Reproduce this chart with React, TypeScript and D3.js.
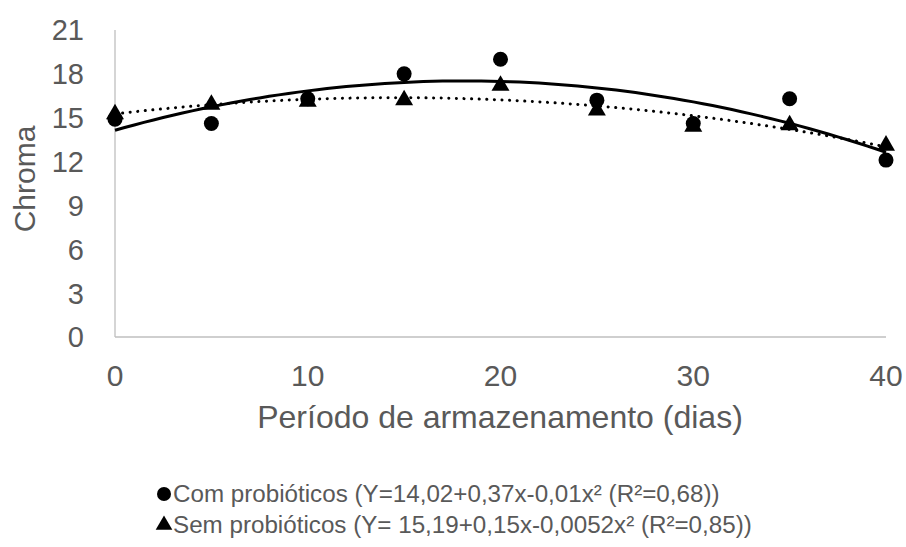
import React from "react";
import * as d3 from "d3";

// storage period (days)
const days = [0, 5, 10, 15, 20, 25, 30, 35, 40];
// chroma, with probiotics (circles)
const comProbioticos = [14.9, 14.6, 16.3, 18.0, 19.0, 16.2, 14.6, 16.3, 12.1];
// chroma, without probiotics (triangles)
const semProbioticos = [15.25, 15.9, 16.1, 16.2, 17.2, 15.5, 14.4, 14.5, 13.1];
const yTicks = [0, 3, 6, 9, 12, 15, 18, 21];
const xTicks = [0, 10, 20, 30, 40];
const legendLabels = [
  "Com probióticos (Y=14,02+0,37x-0,01x² (R²=0,68))",
  "Sem probióticos (Y= 15,19+0,15x-0,0052x² (R²=0,85))",
];

// least squares quadratic fit (what Excel's polynomial trendline does)
function quadFit(xs: number[], ys: number[]) {
  const n = xs.length;
  let s1 = 0, s2 = 0, s3 = 0, s4 = 0, t0 = 0, t1 = 0, t2 = 0;
  xs.forEach((x, i) => {
    const y = ys[i];
    s1 += x; s2 += x * x; s3 += x ** 3; s4 += x ** 4;
    t0 += y; t1 += x * y; t2 += x * x * y;
  });
  const m = [
    [n, s1, s2, t0],
    [s1, s2, s3, t1],
    [s2, s3, s4, t2],
  ];
  for (let i = 0; i < 3; i++) {
    for (let k = i + 1; k < 3; k++) {
      const f = m[k][i] / m[i][i];
      for (let j = i; j < 4; j++) m[k][j] -= f * m[i][j];
    }
  }
  const c = [0, 0, 0];
  for (let i = 2; i >= 0; i--) {
    let s = m[i][3];
    for (let j = i + 1; j < 3; j++) s -= m[i][j] * c[j];
    c[i] = s / m[i][i];
  }
  return (x: number) => c[0] + c[1] * x + c[2] * x * x;
}

const width = 906;
const height = 547;
const marginLeft = 115;
const marginRight = 20;
const marginTop = 30;
const plotBottom = 337;

const font = "'Liberation Sans', Arial, sans-serif";
const textColor = "#595959";

export default function App() {
  const x = d3.scaleLinear().domain([0, 40]).range([marginLeft, width - marginRight]);
  const y = d3.scaleLinear().domain([0, 21]).range([plotBottom, marginTop]);

  const fitCom = quadFit(days, comProbioticos);
  const fitSem = quadFit(days, semProbioticos);
  const xs = d3.range(0, 40.01, 0.5);
  const line = (f: (v: number) => number) =>
    d3
      .line<number>()
      .x((d) => x(d))
      .y((d) => y(f(d)))(xs) || "";

  const tri = d3.symbol().type(d3.symbolTriangle).size(140)() || "";

  return (
    <svg
      width={width}
      height={height}
      style={{ position: "absolute", left: 0, top: 0, background: "#fff" }}
      fontFamily={font}
    >
      {/* axes */}
      <line x1={x(0)} x2={x(0)} y1={y(21)} y2={y(0)} stroke="#bfbfbf" strokeWidth={1.3} />
      <line x1={x(0)} x2={x(40)} y1={y(0)} y2={y(0)} stroke="#bfbfbf" strokeWidth={1.3} />

      {yTicks.map((t) => (
        <text
          key={"y" + t}
          x={84}
          y={y(t)}
          dy="0.36em"
          textAnchor="end"
          fontSize={29}
          fill={textColor}
        >
          {t}
        </text>
      ))}
      {xTicks.map((t) => (
        <text
          key={"x" + t}
          x={x(t)}
          y={386}
          textAnchor="middle"
          fontSize={30}
          fill={textColor}
        >
          {t}
        </text>
      ))}

      <text
        transform={`translate(35,179) rotate(-90)`}
        textAnchor="middle"
        fontSize={30}
        fill={textColor}
      >
        Chroma
      </text>
      <text x={500} y={428} textAnchor="middle" fontSize={32} fill={textColor}>
        Período de armazenamento (dias)
      </text>

      {/* trend lines */}
      <path d={line(fitSem)} fill="none" stroke="#000" strokeWidth={3} strokeDasharray="0.1 7.5" strokeLinecap="round" />
      <path d={line(fitCom)} fill="none" stroke="#000" strokeWidth={3} />

      {/* points */}
      {days.map((d, i) => (
        <circle key={"c" + i} cx={x(d)} cy={y(comProbioticos[i])} r={7.5} fill="#000" />
      ))}
      {days.map((d, i) => (
        <path key={"t" + i} d={tri} transform={`translate(${x(d)},${y(semProbioticos[i])})`} fill="#000" />
      ))}

      {/* legend */}
      <circle cx={164} cy={494} r={7} fill="#000" />
      <text x={173} y={502} fontSize={24.2} fill={textColor}>
        {legendLabels[0]}
      </text>
      <path d={d3.symbol().type(d3.symbolTriangle).size(120)() || ""} transform="translate(164,525)" fill="#000" />
      <text x={173} y={533} fontSize={24.2} fill={textColor}>
        {legendLabels[1]}
      </text>
    </svg>
  );
}
